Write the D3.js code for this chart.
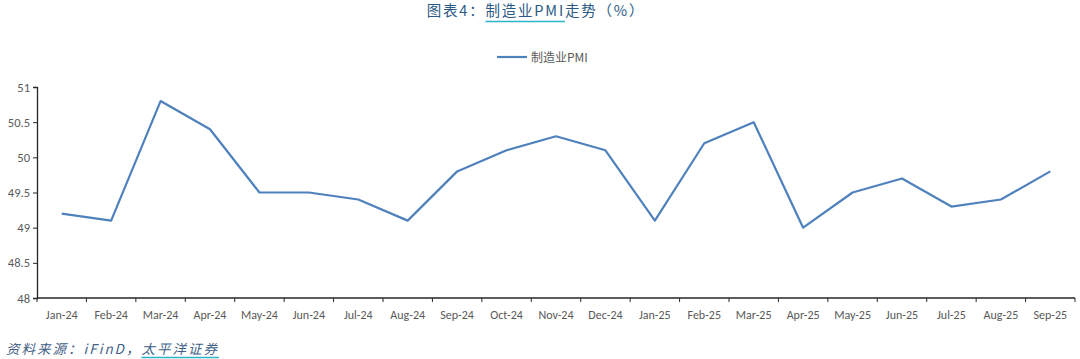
<!DOCTYPE html>
<html><head><meta charset="utf-8">
<script src="https://cdn.jsdelivr.net/npm/d3@7"></script>
<style>
body{margin:0;background:#fff;}
svg{display:block;}
</style></head>
<body>
<svg id="c" width="1080" height="359"></svg>
<script>
const categories = ["Jan-24","Feb-24","Mar-24","Apr-24","May-24","Jun-24","Jul-24","Aug-24","Sep-24","Oct-24","Nov-24","Dec-24","Jan-25","Feb-25","Mar-25","Apr-25","May-25","Jun-25","Jul-25","Aug-25","Sep-25"];
const pmiValues = [49.2,49.1,50.8,50.4,49.5,49.5,49.4,49.1,49.8,50.1,50.3,50.1,49.1,50.2,50.5,49.0,49.5,49.7,49.3,49.4,49.8];
const yTicks = [48,48.5,49,49.5,50,50.5,51];
const seriesName = "制造业PMI";

(function(){
const svg = d3.select("#c");
const pL = 37, pR = 1075, pT = 87, pB = 298;
const x = d3.scaleBand().domain(categories).range([pL, pR]);
const y = d3.scaleLinear().domain([48, 51]).range([pB, pT]);
const font = "'Noto Sans CJK SC', 'Noto Sans', sans-serif";
const labelFont = "Calibri, 'Liberation Sans', 'Open Sans', sans-serif";

// Title
const title = svg.append("text").attr("x", 536).attr("y", 16).attr("text-anchor","middle")
  .attr("font-family", font).attr("font-size", 14.5).attr("font-weight", 400).attr("fill", "#2b5a85").attr("letter-spacing", 1.8);
title.append("tspan").text("图表4：");
const tMid = title.append("tspan").text("制造业PMI");
title.append("tspan").text("走势（%）");
const node = tMid.node();
const n0 = node.getStartPositionOfChar(0).x;
const nEnd = node.getEndPositionOfChar(node.getNumberOfChars()-1).x;
svg.append("line").attr("x1", n0).attr("x2", nEnd).attr("y1", 21.5).attr("y2", 21.5)
  .attr("stroke", "#2bb5c9").attr("stroke-width", 1.5);

// Legend
svg.append("line").attr("x1", 497).attr("x2", 527).attr("y1", 57).attr("y2", 57)
  .attr("stroke", "#4f81bd").attr("stroke-width", 2.2);
svg.append("text").attr("x", 531).attr("y", 61.5).attr("font-family", font).attr("font-size", 12)
  .attr("fill", "#595959").text(seriesName);

// Y axis
const yAxis = d3.axisLeft(y).tickValues(yTicks).tickSize(4).tickFormat(d => d3.format("")(d));
const gy = svg.append("g").attr("transform", `translate(${pL},0)`).call(yAxis);
gy.select(".domain").attr("stroke", "#262626").attr("stroke-width", 1.3);
gy.selectAll(".tick line").attr("stroke", "#262626");
gy.selectAll(".tick text").attr("font-family", labelFont).attr("font-size", 12.5).attr("fill", "#595959").attr("x", -7);

// X axis
const gx = svg.append("g").attr("transform", `translate(0,${pB})`);
gx.append("line").attr("x1", pL).attr("x2", pR).attr("stroke", "#262626").attr("stroke-width", 1.3);
const bounds = categories.map(c => x(c)).concat([pR]);
gx.selectAll("line.tk").data(bounds).enter().append("line").attr("class","tk")
  .attr("x1", d=>d).attr("x2", d=>d).attr("y1", 0).attr("y2", 4).attr("stroke", "#262626");
gx.selectAll("text").data(categories).enter().append("text")
  .attr("x", d => x(d) + x.bandwidth()/2).attr("y", 21).attr("text-anchor","middle")
  .attr("font-family", labelFont).attr("font-size", 12).attr("fill", "#595959").text(d=>d);

// Line
const line = d3.line().x((d,i) => x(categories[i]) + x.bandwidth()/2).y(d => y(d));
svg.append("path").datum(pmiValues).attr("d", line).attr("fill","none")
  .attr("stroke", "#4f81bd").attr("stroke-width", 2.2).attr("stroke-linejoin","round");

// Source
const src = svg.append("text").attr("x", 6).attr("y", 354).attr("font-family", font)
  .attr("font-size", 13.5).attr("fill", "#3f5f86").attr("font-style","italic").attr("letter-spacing", 2);
src.append("tspan").text("资料来源：iFinD，");
const sEnd = src.append("tspan").text("太平洋证券");
const sn = sEnd.node();
svg.append("line").attr("x1", sn.getStartPositionOfChar(0).x).attr("x2", sn.getEndPositionOfChar(sn.getNumberOfChars()-1).x)
  .attr("y1", 357.5).attr("y2", 357.5).attr("stroke", "#2bb5c9").attr("stroke-width", 1.5);
})();
</script>
</body></html>
